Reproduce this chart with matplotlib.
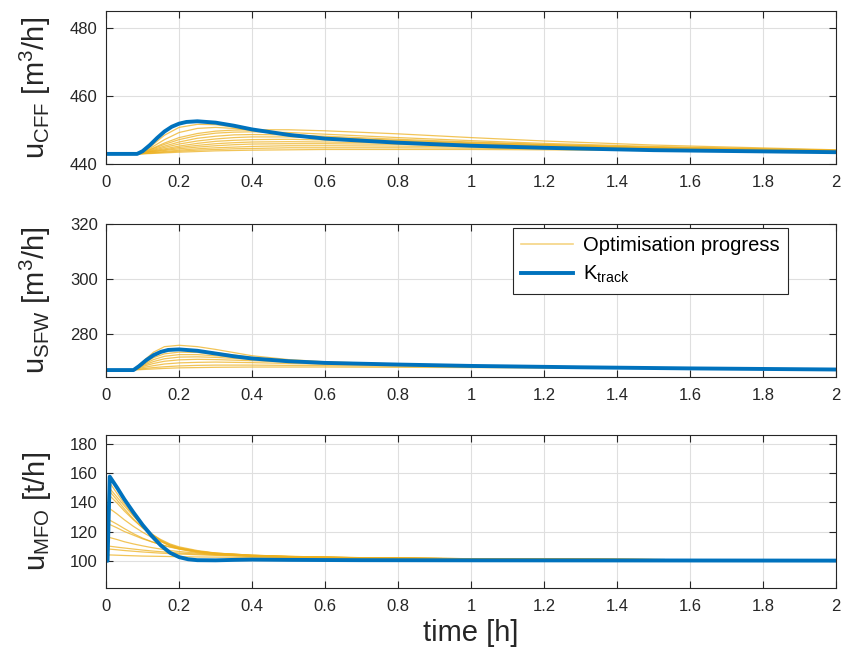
import matplotlib
matplotlib.use("Agg")
import matplotlib.pyplot as plt
from matplotlib.lines import Line2D

plt.rcParams['font.family'] = ['Liberation Sans', 'DejaVu Sans']
plt.rcParams['mathtext.fontset'] = 'custom'
plt.rcParams['mathtext.rm'] = 'Liberation Sans'
plt.rcParams['mathtext.it'] = 'Liberation Sans:italic'

# --- DATA: u_CFF ---
t_cff = [0, 0.085, 0.1, 0.12, 0.16, 0.2, 0.25, 0.3, 0.35, 0.4, 0.5, 0.6, 0.8, 1.0, 1.2, 1.5, 2.0]
t_cff_track = [0, 0.085, 0.1, 0.12, 0.14, 0.16, 0.18, 0.2, 0.22, 0.25, 0.3, 0.35, 0.4, 0.5, 0.6, 0.8, 1.0, 1.2, 1.5, 2.0]
cff_track = [443, 443, 443.8, 445.6, 447.7, 449.6, 451.0, 451.9, 452.4, 452.6, 452.2, 451.3, 450.2, 448.6, 447.5, 446.3, 445.4, 444.8, 444.1, 443.5]
cff_progress = [
    [443, 443, 443.6, 445, 448.5, 450.8, 451.7, 451.6, 450.9, 450.0, 448.6, 447.6, 446.5, 445.7, 445.1, 444.4, 443.8],
    [443, 443, 443.5, 444.6, 447.2, 449.3, 450.5, 450.8, 450.5, 449.9, 448.8, 447.9, 446.8, 446.0, 445.3, 444.6, 443.9],
    [443, 443, 443.4, 444.3, 446.2, 447.8, 449.0, 449.7, 450.0, 450.1, 450.1, 449.8, 448.9, 447.8, 446.8, 445.6, 444.2],
    [443, 443, 443.4, 444.2, 445.8, 447.2, 448.4, 449.1, 449.4, 449.5, 449.3, 448.8, 447.8, 446.9, 446.1, 445.2, 444.1],
    [443, 443, 443.3, 444.0, 445.3, 446.5, 447.6, 448.2, 448.6, 448.7, 448.6, 448.2, 447.3, 446.5, 445.8, 445.0, 444.0],
    [443, 443, 443.3, 443.8, 444.9, 445.9, 446.8, 447.4, 447.8, 448.0, 448.0, 447.7, 447.0, 446.3, 445.7, 444.9, 444.0],
    [443, 443, 443.2, 443.7, 444.5, 445.3, 446.1, 446.7, 447.0, 447.2, 447.3, 447.1, 446.6, 446.0, 445.5, 444.8, 443.9],
    [443, 443, 443.2, 443.6, 444.2, 444.9, 445.5, 446.0, 446.3, 446.5, 446.6, 446.5, 446.2, 445.8, 445.3, 444.7, 443.9],
    [443, 443, 443.15, 443.5, 444.0, 444.5, 445.0, 445.4, 445.7, 445.9, 446.0, 446.0, 445.8, 445.5, 445.1, 444.6, 443.9],
    [443, 443, 443.1, 443.3, 443.7, 444.1, 444.5, 444.8, 445.0, 445.2, 445.4, 445.4, 445.3, 445.1, 444.8, 444.4, 443.8],
    [443, 443, 443.05, 443.2, 443.5, 443.8, 444.1, 444.3, 444.5, 444.6, 444.8, 444.8, 444.8, 444.7, 444.5, 444.2, 443.7],
    [443, 443, 443.03, 443.1, 443.3, 443.5, 443.7, 443.9, 444.0, 444.1, 444.2, 444.3, 444.3, 444.3, 444.2, 444.0, 443.6],
]

# --- DATA: u_SFW ---
t_sfw = [0, 0.075, 0.1, 0.13, 0.16, 0.2, 0.25, 0.3, 0.4, 0.5, 0.6, 0.8, 1.0, 1.3, 1.6, 2.0]
t_sfw_track = [0, 0.075, 0.09, 0.11, 0.13, 0.15, 0.17, 0.2, 0.25, 0.3, 0.35, 0.4, 0.5, 0.6, 0.8, 1.0, 1.3, 1.6, 2.0]
sfw_track = [267, 267, 268.4, 270.6, 272.4, 273.6, 274.3, 274.5, 274.0, 273.0, 272.0, 271.2, 270.2, 269.6, 269.0, 268.5, 268.0, 267.6, 267.2]
sfw_progress = [
    [267, 267, 270, 273.5, 275.5, 276.0, 275.5, 274.5, 272.2, 270.8, 270.0, 269.2, 268.7, 268.1, 267.7, 267.3],
    [267, 267, 269.5, 272.3, 273.8, 274.4, 274.1, 273.3, 271.6, 270.5, 269.8, 269.1, 268.6, 268.1, 267.7, 267.3],
    [267, 267, 269.2, 271.5, 272.9, 273.5, 273.4, 272.8, 271.4, 270.4, 269.8, 269.1, 268.6, 268.1, 267.7, 267.3],
    [267, 267, 268.9, 270.8, 272.0, 272.6, 272.6, 272.2, 271.2, 270.3, 269.7, 269.0, 268.6, 268.1, 267.7, 267.3],
    [267, 267, 268.6, 270.1, 271.1, 271.7, 271.8, 271.6, 270.9, 270.2, 269.6, 269.0, 268.5, 268.0, 267.7, 267.3],
    [267, 267, 268.3, 269.4, 270.2, 270.7, 270.9, 270.8, 270.4, 269.9, 269.4, 268.9, 268.5, 268.0, 267.6, 267.3],
    [267, 267, 267.9, 268.6, 269.2, 269.6, 269.8, 269.9, 269.7, 269.4, 269.1, 268.7, 268.3, 267.9, 267.6, 267.3],
    [267, 267, 267.5, 267.9, 268.2, 268.5, 268.7, 268.8, 268.8, 268.7, 268.6, 268.4, 268.1, 267.8, 267.5, 267.2],
    [267, 267, 267.2, 267.4, 267.6, 267.8, 267.9, 268.0, 268.1, 268.1, 268.1, 268.0, 267.9, 267.7, 267.5, 267.2],
]

# --- DATA: u_MFO ---
t_mfo = [0, 0.008, 0.03, 0.05, 0.075, 0.1, 0.125, 0.15, 0.175, 0.2, 0.25, 0.3, 0.4, 0.5, 0.7, 1.0, 1.5, 2.0]
t_mfo_track = [0, 0.004, 0.01, 0.03, 0.05, 0.075, 0.1, 0.125, 0.15, 0.175, 0.2, 0.225, 0.25, 0.3, 0.35, 0.4, 0.5, 0.7, 1.0, 1.5, 2.0]
mfo_track = [100, 100, 157.5, 150, 142, 133, 124.5, 117, 110.5, 105.5, 102.5, 101, 100.4, 100.3, 100.6, 100.8, 100.6, 100.4, 100.3, 100.2, 100.1]
mfo_progress = [
    [100, 154, 146, 139, 131, 124, 118, 113.5, 110, 108, 105.5, 104.3, 103, 102.4, 101.8, 101.2, 100.7, 100.4],
    [100, 150, 143.5, 137.5, 130.5, 124, 118.5, 114, 111, 109, 106.5, 105, 103.5, 102.8, 102, 101.3, 100.8, 100.4],
    [100, 148, 141.5, 135.5, 128.5, 122.5, 117.5, 113.5, 110.5, 108.5, 106, 104.7, 103.3, 102.6, 101.9, 101.3, 100.8, 100.4],
    [100, 145, 139.5, 134, 128, 122.5, 118, 114.5, 111.5, 109.5, 107, 105.3, 103.7, 102.9, 102, 101.4, 100.8, 100.4],
    [100, 136, 132, 128, 123.5, 119.5, 116, 113, 110.5, 108.7, 106.5, 105.2, 103.8, 103, 102.1, 101.4, 100.8, 100.4],
    [100, 128, 125, 122, 118.5, 115.5, 113, 111, 109.3, 108, 106.2, 105, 103.7, 102.9, 102, 101.4, 100.8, 100.4],
    [100, 125, 122.5, 120, 117.5, 115, 113, 111, 109.5, 108.3, 106.5, 105.2, 103.8, 103, 102.1, 101.4, 100.8, 100.4],
    [100, 116, 114.5, 113, 111.5, 110.2, 109, 108, 107, 106.3, 105.2, 104.4, 103.4, 102.7, 101.9, 101.3, 100.8, 100.4],
    [100, 110, 109.3, 108.7, 108, 107.3, 106.7, 106.2, 105.7, 105.3, 104.6, 104, 103.2, 102.6, 101.9, 101.3, 100.8, 100.4],
    [100, 108, 107.5, 107, 106.5, 106, 105.6, 105.2, 104.9, 104.6, 104.1, 103.7, 103, 102.5, 101.9, 101.3, 100.8, 100.4],
    [100, 104, 103.8, 103.6, 103.4, 103.2, 103.1, 103, 102.9, 102.8, 102.6, 102.5, 102.3, 102.1, 101.7, 101.2, 100.8, 100.4],
]

x_ticks = [0, 0.2, 0.4, 0.6, 0.8, 1, 1.2, 1.4, 1.6, 1.8, 2]
x_tick_labels = ['0', '0.2', '0.4', '0.6', '0.8', '1', '1.2', '1.4', '1.6', '1.8', '2']

# --- STYLE ---
AMARELO = '#EDB120'
AZUL = '#0072BD'
CINZA = '#262626'

panels = [
    (t_cff, t_cff_track, cff_track, cff_progress, (440, 485), [440, 460, 480], r'u$_{\mathrm{CFF}}$ [m$^3$/h]', 0.751),
    (t_sfw, t_sfw_track, sfw_track, sfw_progress, (264.5, 320), [280, 300, 320], r'u$_{\mathrm{SFW}}$ [m$^3$/h]', 0.428),
    (t_mfo, t_mfo_track, mfo_track, mfo_progress, (81.5, 186), [100, 120, 140, 160, 180], r'u$_{\mathrm{MFO}}$ [t/h]', 0.108),
]

fig = plt.figure(figsize=(8.42, 6.59), dpi=100)
eixos = []
for t, t_track, track, progress, ylim, yticks, ylabel, bottom in panels:
    ax = fig.add_axes([0.126, bottom, 0.867, 0.232])
    for curva in progress:
        ax.plot(t, curva, color=AMARELO, lw=0.9, alpha=0.75)
    ax.plot(t_track, track, color=AZUL, lw=2.8, solid_joinstyle='round')
    ax.set_xlim(0, 2)
    ax.set_ylim(*ylim)
    ax.set_xticks(x_ticks)
    ax.set_xticklabels(x_tick_labels)
    ax.set_yticks(yticks)
    ax.grid(True, color='#dfdfdf', lw=0.8)
    ax.set_axisbelow(True)
    ax.tick_params(direction='in', top=True, right=True, labelsize=12,
                   colors=CINZA, length=5, width=0.8)
    ax.tick_params(axis='x', pad=8)
    ax.tick_params(axis='y', pad=6)
    for s in ax.spines.values():
        s.set_color(CINZA)
        s.set_linewidth(0.8)
    ax.set_ylabel(ylabel, fontsize=21, color=CINZA, labelpad=12)
    eixos.append(ax)

eixos[2].set_xlabel('time [h]', fontsize=21, color=CINZA, labelpad=4)

# --- LEGENDA ---
handles = [Line2D([], [], color=AMARELO, lw=1.2, alpha=0.55),
           Line2D([], [], color=AZUL, lw=2.8)]
leg = eixos[1].legend(handles, ['Optimisation progress', r'K$_{\mathrm{track}}$'],
                      loc='upper right', bbox_to_anchor=(0.934, 0.974), borderaxespad=0,
                      fontsize=14.5, fancybox=False, framealpha=1, edgecolor=CINZA,
                      handlelength=2.6, handletextpad=0.5, labelspacing=0.45,
                      borderpad=0.4)
leg.get_frame().set_linewidth(0.8)

fig.savefig('out.png', dpi=100)
